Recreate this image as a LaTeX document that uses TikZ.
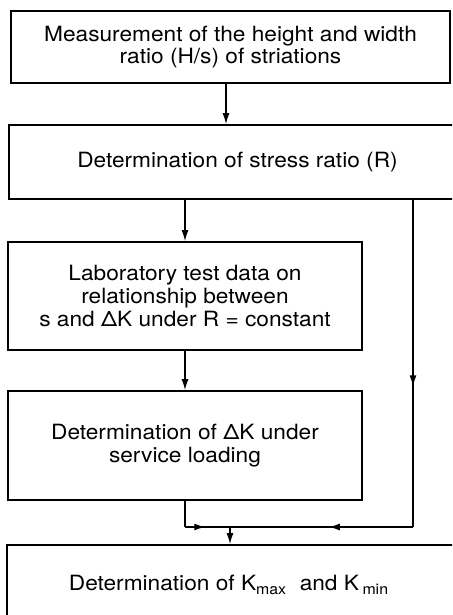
\documentclass[tikz,border=0pt]{standalone}
\usepackage{fontspec}
\setmainfont[FakeStretch=1.08]{TeX Gyre Heros}
\usetikzlibrary{arrows.meta,decorations.markings}
\begin{document}
\begin{tikzpicture}[x=0.5pt, y=-0.5pt,
        box/.style={draw, line width=0.9pt, align=center, inner sep=0pt, font=\fontsize{10.5}{11.4}\selectfont},
        link/.style={line width=0.7pt},
        arr/.style={link, -{Latex[length=5.5pt,width=3.5pt]}},
        midtip/.style={link, decoration={markings, mark=at position #1 with {\arrow{Latex[length=5.5pt,width=3.5pt]}}}, postaction={decorate}}]
        \useasboundingbox (0,0) rectangle (452,615);
        \clip (0,0) rectangle (452,615);
        % boxes
        \node [box, minimum width=219.5pt, minimum height=36pt] (meas) at (230.5,47) {Measurement of the height and width\\ratio (H/s) of striations};
        \node [box, minimum width=228.5pt, minimum height=37pt] (ratio) at (237.5,162) {Determination of stress ratio (R)};
        \node [box, minimum width=177pt, minimum height=54pt] (lab) at (185,296) {Laboratory test data on\\relationship between\\s and ΔK under R = constant};
        \node [box, minimum width=177pt, minimum height=54.5pt] (serv) at (185,445.5) {Determination of ΔK under\\service loading};
        \node [box, minimum width=229.5pt, minimum height=40pt] (kmax) at (236.5,585) {};
        \node [box, draw=none] (kmaxtext) at (229,585) {Determination of K\textsubscript{max} \ and K\,\textsubscript{min}};
        % connectors
        \coordinate (vmain) at (226,0);
        \coordinate (rtrunk) at (413,0);
        \coordinate (join) at (230,527);
        \draw [arr] (meas.south -| vmain) -- (ratio.north -| vmain);
        \draw [arr] (ratio.south -| lab.north) -- (lab.north);
        \draw [arr] (lab.south) -- (serv.north);
        \draw [midtip=0.57] (ratio.south -| rtrunk) -- (rtrunk |- join);
        \draw [midtip=0.46] (rtrunk |- join) -- (join);
        \draw [link] (serv.south) -- (serv.south |- join);
        \draw [midtip=0.45] (serv.south |- join) -- (join);
        \draw [arr] (join) -- (kmax.north -| join);
    \end{tikzpicture}
\end{document}
